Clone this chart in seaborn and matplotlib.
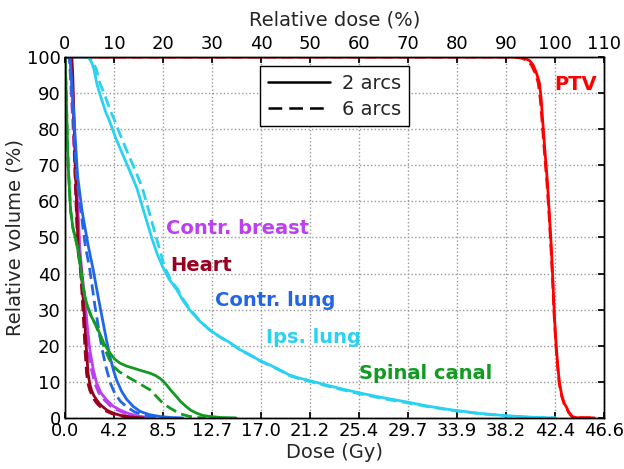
import numpy as np
import pandas as pd
import matplotlib
matplotlib.use("Agg")
import matplotlib.pyplot as plt
import seaborn as sns
from matplotlib.lines import Line2D

# ---------------- data (dose in Gy, volume in %) ----------------
ptv_2_dose = [0, 38.5, 39.3, 39.8, 40.2, 40.5, 40.8, 41.05, 41.2, 41.31, 41.5, 41.75, 41.9, 42.09, 42.2, 42.35, 42.5, 42.65, 42.78, 43.0, 43.2, 43.39, 43.6, 43.91, 44.3, 45.8]
ptv_2_vol  = [100, 100, 99.9, 99.6, 99, 97.8, 95.5, 92.8, 88.5, 83.4, 75, 65.1, 57, 46.5, 39, 28.0, 20, 14, 9.7, 6, 4, 3.0, 1.5, 0.3, 0.05, 0]
ptv_6_dose = [0, 38.3, 39.1, 39.6, 40.0, 40.35, 40.7, 40.95, 41.12, 41.25, 41.45, 41.7, 41.87, 42.06, 42.18, 42.33, 42.48, 42.63, 42.76, 42.98, 43.18, 43.37, 43.58, 43.88, 44.3, 45.8]
ptv_6_vol  = [100, 100, 99.9, 99.6, 99, 97.8, 95.5, 92.8, 88.5, 83.4, 75, 65.1, 57, 46.5, 39, 28.0, 20, 14, 9.7, 6, 4, 3.0, 1.5, 0.3, 0.05, 0]

ips_2_dose = [0, 1.9, 2.1, 2.3, 2.5, 2.77, 3.1, 3.5, 3.89, 4.4, 5.01, 5.6, 6.22, 6.8, 7.5, 8.0, 8.47, 9.0, 9.68, 10.2, 10.8, 11.6, 12.5, 13.4, 14.3, 15.1, 16.0, 16.8, 17.7, 18.6, 19.4, 20.3, 21.2, 22.5, 24.0, 25.5, 27.5, 29.6, 31.5, 33.5, 36.0, 38.2, 40.0, 41.0, 42.4]
ips_2_vol  = [100, 100, 99.6, 98.6, 96.8, 92.5, 89, 85, 82, 77.5, 72.9, 68.5, 63.7, 57.5, 50.0, 45.3, 41.8, 38.5, 35.5, 32.6, 29.9, 27, 24.4, 22.5, 20.8, 19, 17.5, 16, 14.7, 13.3, 11.9, 11.0, 10.3, 9.2, 8.0, 6.9, 5.6, 4.4, 3.2, 2.2, 1.2, 0.6, 0.25, 0.1, 0]
ips_6_dose = [0, 1.9, 2.15, 2.4, 2.7, 3.05, 3.5, 3.95, 4.35, 4.9, 5.5, 6.1, 6.7, 7.25, 7.9, 8.3, 8.6, 9.1, 9.8, 10.3, 10.9, 11.7, 12.6, 13.5, 14.4, 15.2, 16.1, 16.9, 17.8, 18.7, 19.5, 20.4, 21.3, 22.6, 24.1, 25.6, 27.6, 29.7, 31.6, 33.6, 36.1, 38.3, 40.0, 41.2, 42.5]
ips_6_vol  = [100, 100, 99.6, 98.6, 96.8, 92.5, 89, 85, 82, 77.5, 72.9, 68.5, 63.7, 57.5, 50.0, 45.5, 42, 38.6, 35.4, 32.5, 29.8, 26.8, 24.2, 22.2, 20.5, 18.7, 17.2, 15.7, 14.4, 13.0, 11.6, 10.7, 10.0, 8.9, 7.7, 6.6, 5.3, 4.1, 3.0, 2.0, 1.1, 0.5, 0.2, 0.05, 0]

breast_2_dose = [0, 0.45, 0.55, 0.8, 1.05, 1.3, 1.5, 1.73, 1.95, 2.16, 2.45, 2.74, 3.1, 3.6, 4.15, 4.75, 5.5, 6.5, 7.5]
breast_2_vol  = [100, 100, 95, 80, 63, 46.5, 39.5, 32.7, 25, 18.8, 13.5, 9.7, 7.0, 5.0, 3.3, 2.2, 1.2, 0.4, 0]
breast_6_dose = [0, 0.38, 0.47, 0.71, 0.95, 1.19, 1.38, 1.6, 1.81, 2.01, 2.29, 2.57, 2.92, 3.4, 3.93, 4.52, 5.26, 6.25, 7.2]
breast_6_vol  = [100, 100, 95, 80, 63, 46.5, 39.5, 32.7, 25, 18.8, 13.5, 9.7, 7.0, 5.0, 3.3, 2.2, 1.2, 0.4, 0]

heart_2_dose = [0, 0.6, 0.68, 0.8, 0.95, 1.15, 1.3, 1.44, 1.6, 1.73, 1.87, 2.0, 2.15, 2.3, 2.5, 2.74, 3.0, 3.3, 3.7, 4.2, 4.8, 5.5, 6.2, 6.8]
heart_2_vol  = [100, 100, 95, 82, 65, 47, 43.5, 40, 32, 26, 18.5, 12.5, 9.5, 7.7, 6.2, 5.0, 3.9, 3.0, 2.0, 1.3, 0.7, 0.35, 0.1, 0]
heart_6_dose = [0, 0.55, 0.63, 0.75, 0.9, 1.1, 1.25, 1.38, 1.52, 1.63, 1.75, 1.87, 2.0, 2.15, 2.35, 2.55, 2.8, 3.1, 3.5, 3.95, 4.5, 5.2, 5.9, 6.4]
heart_6_vol  = [100, 100, 95, 82, 65, 47, 43.5, 40, 32, 26, 18.5, 12.5, 9.5, 7.7, 6.2, 5.0, 3.9, 3.0, 2.0, 1.3, 0.7, 0.35, 0.1, 0]

clung_2_dose = [0, 0.45, 0.55, 0.75, 1.1, 1.5, 2.0, 2.45, 2.88, 3.3, 3.6, 3.9, 4.2, 4.47, 4.9, 5.33, 5.9, 6.5, 7.3, 8.2, 9.2, 10.2]
clung_2_vol  = [100, 100, 95, 85, 67, 57, 48, 41, 33.5, 26.5, 21.5, 17, 13.2, 10.5, 7.4, 5.2, 3.2, 1.8, 0.9, 0.4, 0.1, 0]
clung_6_dose = [0, 0.4, 0.5, 0.7, 1.0, 1.35, 1.75, 2.16, 2.6, 3.0, 3.3, 3.6, 3.95, 4.3, 4.8, 5.33, 6.0, 6.8, 7.8, 9.0]
clung_6_vol  = [100, 100, 95, 85, 67, 58, 48, 41, 31, 23, 17.8, 13.5, 9.5, 6.9, 4.6, 3.1, 1.7, 0.8, 0.25, 0]

spinal_2_dose = [0, 0.09, 0.2, 0.29, 0.49, 0.7, 0.86, 1.0, 1.15, 1.3, 1.5, 1.73, 2.0, 2.3, 2.65, 3.0, 3.4, 3.9, 4.3, 4.75, 5.3, 5.9, 6.6, 7.35, 7.8, 8.2, 8.5, 8.8, 9.2, 9.65, 10.05, 10.5, 10.9, 11.4, 11.9, 12.5, 13.5, 14.8]
spinal_2_vol  = [100, 92.8, 79, 69.5, 57.6, 52.5, 50.5, 48.5, 46.5, 43, 38, 33.5, 30.5, 28, 26, 23.5, 20.5, 18, 16.3, 15.2, 14.4, 13.8, 13.1, 12.4, 11.8, 11, 10.2, 9.1, 7.5, 5.9, 4.4, 3.1, 2.1, 1.3, 0.7, 0.4, 0.1, 0]
spinal_6_dose = [0, 0.09, 0.2, 0.29, 0.49, 0.7, 0.86, 1.0, 1.15, 1.3, 1.5, 1.73, 2.0, 2.3, 2.65, 3.0, 3.4, 3.8, 4.2, 4.7, 5.3, 5.9, 6.6, 7.35, 7.9, 8.5, 9.1, 9.65, 10.2, 10.8, 11.5, 12.2]
spinal_6_vol  = [100, 92.8, 79, 69.5, 57.6, 52.5, 50.5, 48.5, 46.5, 43, 38, 33.5, 30.5, 28, 25.8, 23.0, 19.5, 16.5, 14.2, 12.8, 11.6, 10.5, 9.2, 7.8, 6.0, 4.0, 2.7, 1.7, 0.9, 0.4, 0.1, 0]

structures = ["PTV", "Ips. lung", "Contr. breast", "Heart", "Contr. lung", "Spinal canal"]
colors = ["#ff0000", "#2ad2f2", "#bb40f0", "#99001f", "#2266e8", "#129a22"]
arc_labels = ["2 arcs", "6 arcs"]
label_x = [44.17, 21.52, 14.95, 11.75, 18.15, 31.2]
label_y = [92.5, 22.2, 52.4, 42.1, 32.4, 12.2]

rx_dose = 42.4  # 100 % relative dose
rel_ticks = list(range(0, 111, 10))

series = {
    "PTV": [(ptv_2_dose, ptv_2_vol), (ptv_6_dose, ptv_6_vol)],
    "Ips. lung": [(ips_2_dose, ips_2_vol), (ips_6_dose, ips_6_vol)],
    "Contr. breast": [(breast_2_dose, breast_2_vol), (breast_6_dose, breast_6_vol)],
    "Heart": [(heart_2_dose, heart_2_vol), (heart_6_dose, heart_6_vol)],
    "Contr. lung": [(clung_2_dose, clung_2_vol), (clung_6_dose, clung_6_vol)],
    "Spinal canal": [(spinal_2_dose, spinal_2_vol), (spinal_6_dose, spinal_6_vol)],
}

rows = []
for s in structures:
    for arc, (d, v) in zip(arc_labels, series[s]):
        for di, vi in zip(d, v):
            rows.append({"dose": di, "volume": vi, "structure": s, "arcs": arc})
df = pd.DataFrame(rows)

# ---------------- style ----------------
sns.set_theme(style="white")
plt.rcParams["font.family"] = ["DejaVu Sans"]
plt.rcParams.update({
    "xtick.direction": "in", "ytick.direction": "in",
    "xtick.major.size": 4, "ytick.major.size": 4,
    "axes.edgecolor": "black", "axes.linewidth": 1.0,
    "xtick.color": "black", "ytick.color": "black",
    "xtick.labelsize": 13, "ytick.labelsize": 13,
})

fig = plt.figure(figsize=(6.24, 4.69), dpi=100)
ax = fig.add_axes([0.104, 0.109, 0.864, 0.7695])

sns.lineplot(data=df, x="dose", y="volume", hue="structure", style="arcs",
             hue_order=structures, style_order=arc_labels,
             palette=dict(zip(structures, colors)),
             dashes={"2 arcs": "", "6 arcs": (4, 2)},
             sort=False, estimator=None,
             linewidth=2, legend=False, ax=ax)

xmax = rx_dose * 1.1
ax.set_xlim(0, xmax)
ax.set_ylim(0, 100)
dose_ticks = [rx_dose * t / 100 for t in rel_ticks]
ax.set_xticks(dose_ticks)
ax.set_xticklabels([f"{t:.1f}" for t in dose_ticks])
ax.set_yticks(range(0, 101, 10))
ax.tick_params(axis="both", which="both", right=True, top=False, pad=3)
ax.grid(True, linestyle=":", color="#999999", linewidth=1)
ax.set_xlabel("Dose (Gy)", fontsize=14, labelpad=2)
ax.set_ylabel("Relative volume (%)", fontsize=14, labelpad=2)
for sp in ax.spines.values():
    sp.set_color("black")

ax2 = ax.twiny()
ax2.set_xlim(0, 110)
ax2.set_xticks(rel_ticks)
ax2.tick_params(axis="x", direction="in", labelsize=13, pad=3)
ax2.set_xlabel("Relative dose (%)", fontsize=14, labelpad=7)
ax2.grid(False)

for s, c, lx, ly in zip(structures, colors, label_x, label_y):
    ax.text(lx, ly, s, color=c, fontsize=14, fontweight="bold", ha="center", va="center")

handles = [Line2D([0], [0], color="black", lw=1.8, ls="-"),
           Line2D([0], [0], color="black", lw=1.8, ls=(0, (5.5, 2.8)))]
leg = ax.legend(handles, arc_labels, loc="upper center", bbox_to_anchor=(0.5, 0.975),
                borderaxespad=0, fontsize=14, frameon=True, fancybox=False, framealpha=1,
                edgecolor="black", handlelength=3.2, handletextpad=0.6,
                borderpad=0.4, labelspacing=0.35)
leg.get_frame().set_linewidth(1.0)

fig.savefig("out.png", dpi=100)
